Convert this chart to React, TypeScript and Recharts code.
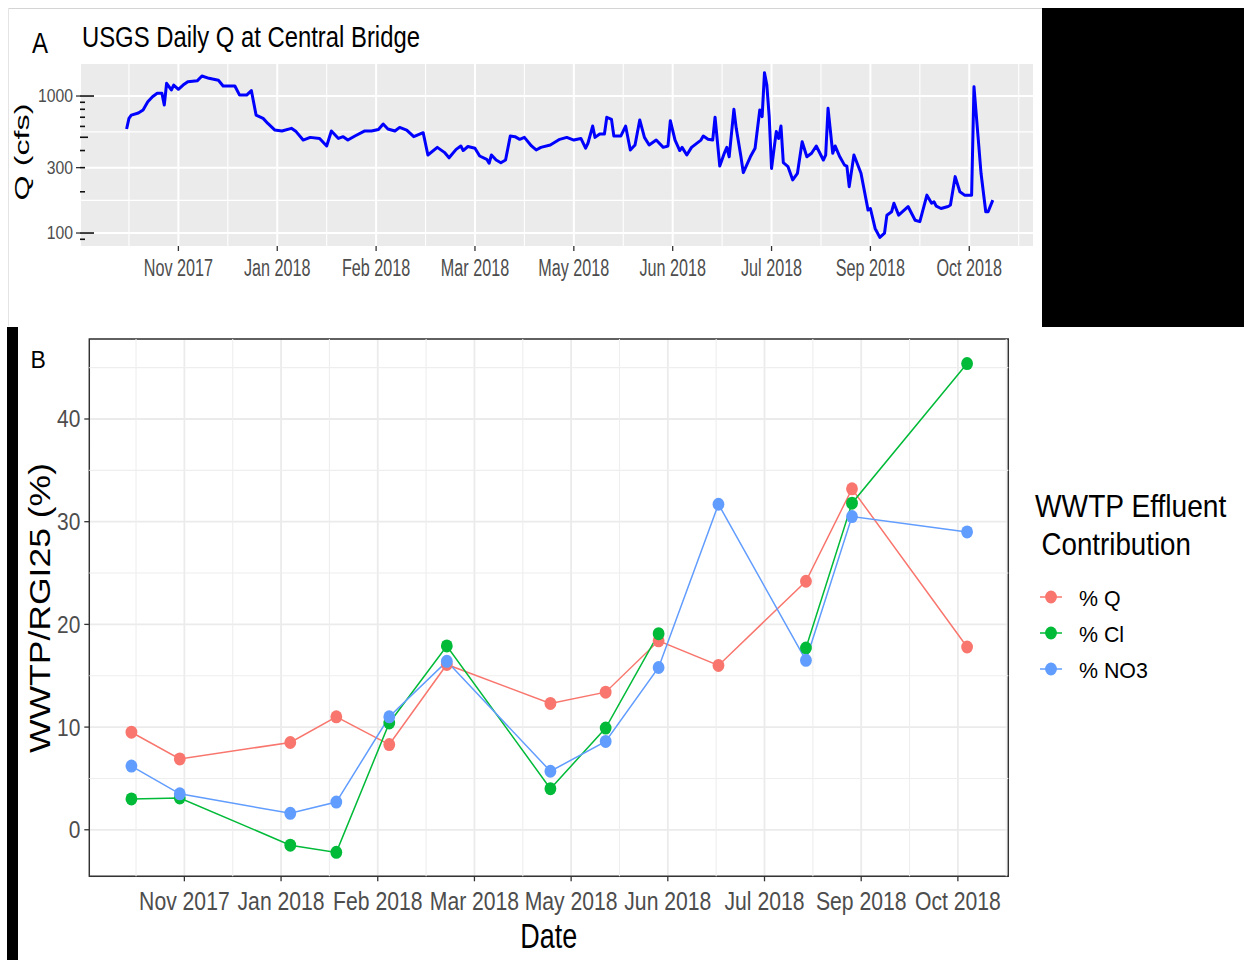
import React from 'react';
import { LineChart, Line, XAxis, YAxis, CartesianGrid, ReferenceLine, ReferenceArea } from 'recharts';

// ---------- shared axis data ----------
const tickLabels = ['Nov 2017', 'Jan 2018', 'Feb 2018', 'Mar 2018', 'May 2018', 'Jun 2018', 'Jul 2018', 'Sep 2018', 'Oct 2018'];
const tickDays = [0, 42, 84, 126, 168, 210, 252, 294, 336];
const minorDays = [-21, 21, 63, 105, 147, 189, 231, 273, 315, 357];

// ---------- panel A: daily discharge (day offset, cfs) ----------
const qSeries: [number, number][] = [
  [-22, 574], [-21, 687], [-20, 726], [-17, 752], [-15, 791], [-13, 908], [-11, 989], [-9, 1047], [-7, 1047], [-6, 859],
  [-5, 1239], [-3, 1107], [-2, 1202], [0, 1120], [2, 1202], [4, 1271], [8, 1291], [10, 1399], [13, 1346], [17, 1305],
  [19, 1183], [24, 1183], [26, 1016], [29, 1016], [31, 1096], [33, 726], [36, 687], [38, 631], [41, 564], [44, 555],
  [48, 581], [50, 550], [53, 477], [56, 499], [60, 490], [63, 432], [65, 555], [68, 490], [70, 505], [72, 477],
  [75, 511], [79, 555], [82, 555], [85, 570], [87, 625], [89, 575], [92, 555], [94, 590], [97, 564], [100, 505],
  [104, 540], [106, 371], [110, 422], [113, 388], [115, 354], [118, 408], [120, 432], [121, 400], [123, 428], [126, 416],
  [128, 365], [131, 345], [132, 323], [133, 371], [135, 341], [137, 326], [139, 341], [141, 511], [143, 505], [145, 483],
  [147, 499], [150, 432], [152, 404], [154, 422], [158, 439], [162, 483], [165, 499], [168, 477], [171, 490], [173, 416],
  [174, 452], [176, 604], [177, 499], [179, 528], [181, 528], [182, 700], [184, 675], [185, 511], [188, 511], [190, 604],
  [192, 404], [194, 439], [196, 669], [198, 499], [200, 439], [203, 477], [206, 422], [208, 432], [209, 661], [211, 477],
  [213, 400], [214, 422], [216, 371], [218, 422], [222, 477], [223, 511], [225, 483], [227, 477], [228, 700], [230, 308],
  [232, 385], [233, 422], [234, 360], [236, 800], [237, 581], [239, 360], [240, 276], [243, 360], [245, 416], [247, 791],
  [248, 707], [249, 1480], [250, 1202], [251, 707], [252, 296], [254, 550], [255, 490], [256, 604], [257, 326], [259, 305],
  [261, 244], [263, 273], [265, 464], [267, 360], [269, 382], [271, 432], [274, 341], [275, 371], [276, 813], [278, 382],
  [279, 432], [281, 360], [283, 313], [284, 308], [285, 218], [287, 371], [290, 273], [293, 147], [294, 151], [296, 108],
  [298, 93], [300, 100], [301, 135], [303, 143], [304, 165], [306, 135], [310, 156], [313, 124], [315, 121], [318, 189],
  [320, 165], [321, 169], [322, 157], [324, 151], [327, 156], [328, 160], [330, 258], [332, 200], [334, 189], [335, 189],
  [337, 189], [338, 1170], [341, 273], [343, 143], [344, 143], [346, 174],
];
const qLabelTicks = [100, 300, 1000];
const qLongTicks = [100, 1000];
const qMidTicks = [500];
const qLogTicks = [90, 100, 200, 300, 400, 500, 600, 700, 800, 900, 1000];
const qGridMinor = [173.2, 547.7];

// ---------- panel B: WWTP contribution ----------
const sampleDays = [-23, -2, 46, 66, 89, 114, 159, 183, 206, 232, 270, 290, 340];
const pctQ = [9.5, 6.9, 8.5, 11.0, 8.3, 16.1, 12.3, 13.4, 18.4, 16.0, 24.2, 33.2, 17.8];
const pctCl = [3.0, 3.1, -1.5, -2.2, 10.4, 17.9, 4.0, 9.9, 19.1, null, 17.7, 31.8, 45.4];
const pctNO3 = [6.2, 3.5, 1.6, 2.7, 11.0, 16.4, 5.7, 8.6, 15.8, 31.7, 16.5, 30.5, 29.0];
const pctTicks = [0, 10, 20, 30, 40];
const pctMinor = [5, 15, 25, 35, 45];
const seriesKeys = ['q', 'cl', 'no3'];
const seriesNames = ['% Q', '% Cl', '% NO3'];
const seriesColors = ['#F8766D', '#00BA38', '#619CFF'];

const qData = qSeries.map(([day, q]) => ({ day, q }));
const pctData = sampleDays.map((day, i) => ({ day, q: pctQ[i], cl: pctCl[i], no3: pctNO3[i] }));

const FONT = '"Liberation Sans", Arial, Helvetica, sans-serif';

function SqText(props: any) {
  const { x, y, sx = 1, size, anchor = 'start', fill = '#000', children } = props;
  return (
    <text
      transform={`translate(${x},${y}) scale(${sx},1)`}
      x={0}
      y={0}
      textAnchor={anchor}
      fontSize={size}
      fontFamily={FONT}
      fill={fill}
    >
      {children}
    </text>
  );
}

// ---------- custom ticks ----------
const TopXTick = (p: any) => {
  const { x, y, payload, index } = p;
  const i = tickDays.indexOf(payload.value);
  return (
    <g key={`tx${index}`}>
      <line x1={x} x2={x} y1={y} y2={y + 5} stroke="#333333" strokeWidth={1.3} />
      <SqText x={x} y={y + 30} size={24.5} sx={0.66} anchor="middle" fill="#4D4D4D">
        {tickLabels[i]}
      </SqText>
    </g>
  );
};

const TopYTick = (p: any) => {
  const { x, y, payload, index } = p;
  const v = payload.value;
  const labelled = qLabelTicks.includes(v);
  const len = qLongTicks.includes(v) ? 14 : qMidTicks.includes(v) ? 8 : 5;
  return (
    <g key={`ty${index}`}>
      {labelled && <line x1={x - 4} x2={x} y1={y} y2={y} stroke="#333333" strokeWidth={1.3} />}
      <line x1={x} x2={x + len} y1={y} y2={y} stroke="#111111" strokeWidth={1.6} />
      {labelled && (
        <SqText x={x - 7} y={y + 6.3} size={17.7} sx={0.89} anchor="end" fill="#4D4D4D">
          {String(v)}
        </SqText>
      )}
    </g>
  );
};

const BotXTick = (p: any) => {
  const { x, y, payload, index } = p;
  const i = tickDays.indexOf(payload.value);
  return (
    <g key={`bx${index}`}>
      <line x1={x} x2={x} y1={y} y2={y + 5} stroke="#333333" strokeWidth={1.3} />
      <SqText x={x} y={y + 33.7} size={25.5} sx={0.83} anchor="middle" fill="#4D4D4D">
        {tickLabels[i]}
      </SqText>
    </g>
  );
};

const BotYTick = (p: any) => {
  const { x, y, payload, index } = p;
  return (
    <g key={`by${index}`}>
      <line x1={x - 5} x2={x} y1={y} y2={y} stroke="#333333" strokeWidth={1.3} />
      <SqText x={x - 9} y={y + 8.5} size={23} sx={0.91} anchor="end" fill="#4D4D4D">
        {String(payload.value)}
      </SqText>
    </g>
  );
};

const makeDot = (color: string) => (p: any) => {
  const { cx, cy, index, value } = p;
  const v = Array.isArray(value) ? value[1] : value;
  if (v == null || cx == null || cy == null || !isFinite(cx) || !isFinite(cy)) return <g key={`d${index}`} />;
  return <ellipse key={`d${index}`} cx={cx} cy={cy} rx={5.9} ry={6.5} fill={color} />;
};

export default function App() {
  return (
    <div style={{ position: 'absolute', left: 0, top: 0, width: 1244, height: 960, background: '#fff', overflow: 'hidden' }}>
      {/* Panel A */}
      <div style={{ position: 'absolute', left: 0, top: 0 }}>
        <LineChart width={1244} height={327} data={qData} margin={{ top: 64, right: 210, bottom: 41, left: 20 }}>
          <CartesianGrid fill="#EBEBEB" horizontal={false} stroke="#FFFFFF" strokeWidth={2} strokeDasharray="0" />
          {minorDays.map((d) => (
            <ReferenceLine key={`amv${d}`} x={d} stroke="#FFFFFF" strokeWidth={1.1} />
          ))}
          {qGridMinor.map((v) => (
            <ReferenceLine key={`amh${v}`} y={v} stroke="#FFFFFF" strokeWidth={1.1} />
          ))}
          {qLabelTicks.map((v) => (
            <ReferenceLine key={`aMh${v}`} y={v} stroke="#FFFFFF" strokeWidth={2} />
          ))}
          <XAxis
            type="number"
            dataKey="day"
            domain={[-41.8, 363.5]}
            allowDataOverflow
            ticks={tickDays}
            interval={0}
            tickSize={0}
            tickMargin={0}
            axisLine={false}
            tickLine={false}
            height={40}
            tick={(p: any) => <TopXTick {...p} />}
          />
          <YAxis
            type="number"
            scale="log"
            domain={[80.4, 1713]}
            allowDataOverflow
            ticks={qLogTicks}
            interval={0}
            tickSize={0}
            tickMargin={0}
            axisLine={false}
            tickLine={false}
            width={60}
            tick={(p: any) => <TopYTick {...p} />}
          />
          <Line
            type="linear"
            dataKey="q"
            stroke="#0000FF"
            strokeWidth={3}
            strokeLinejoin="round"
            dot={false}
            activeDot={false}
            isAnimationActive={false}
          />
        </LineChart>
      </div>

      {/* Panel B */}
      <div style={{ position: 'absolute', left: 0, top: 327 }}>
        <LineChart width={1244} height={633} data={pctData} margin={{ top: 12, right: 235.7, bottom: 43.7, left: 29.3 }}>
          <CartesianGrid fill="#FFFFFF" stroke="#EBEBEB" strokeWidth={1.8} strokeDasharray="0" />
          {minorDays.map((d) => (
            <ReferenceLine key={`bmv${d}`} x={d} stroke="#EEEEEE" strokeWidth={1.1} />
          ))}
          {pctMinor.map((v) => (
            <ReferenceLine key={`bmh${v}`} y={v} stroke="#EEEEEE" strokeWidth={1.1} />
          ))}
          <XAxis
            type="number"
            dataKey="day"
            domain={[-41.3, 357.9]}
            allowDataOverflow
            ticks={tickDays}
            interval={0}
            tickSize={0}
            tickMargin={0}
            axisLine={false}
            tickLine={false}
            height={40}
            tick={(p: any) => <BotXTick {...p} />}
          />
          <YAxis
            type="number"
            domain={[-4.53, 47.79]}
            allowDataOverflow
            ticks={pctTicks}
            interval={0}
            tickSize={0}
            tickMargin={0}
            axisLine={false}
            tickLine={false}
            width={60}
            tick={(p: any) => <BotYTick {...p} />}
          />
          {seriesKeys.map((k, i) => (
            <Line
              key={`line-${k}`}
              type="linear"
              dataKey={k}
              name={seriesNames[i]}
              stroke={seriesColors[i]}
              strokeWidth={1.5}
              connectNulls={false}
              dot={false}
              activeDot={false}
              isAnimationActive={false}
            />
          ))}
          {seriesKeys.map((k, i) => (
            <Line
              key={`pts-${k}`}
              type="linear"
              dataKey={k}
              stroke="none"
              strokeWidth={0}
              legendType="none"
              dot={makeDot(seriesColors[i])}
              activeDot={false}
              isAnimationActive={false}
            />
          ))}
          <ReferenceArea
            x1={-41.3}
            x2={357.9}
            y1={-4.53}
            y2={47.79}
            fill="none"
            fillOpacity={0}
            stroke="#333333"
            strokeWidth={1.4}
            ifOverflow="visible"
          />
        </LineChart>
      </div>

      {/* black blocks of the composite figure */}
      <div style={{ position: 'absolute', left: 1042, top: 8, width: 202, height: 319, background: '#000' }} />
      <div style={{ position: 'absolute', left: 7, top: 327, width: 11, height: 633, background: '#000' }} />

      {/* annotations and legend */}
      <svg width={1244} height={960} style={{ position: 'absolute', left: 0, top: 0, pointerEvents: 'none' }}>
        <line x1={8} x2={1042} y1={8.5} y2={8.5} stroke="#D4D4D4" strokeWidth={1} />
        <line x1={8.5} x2={8.5} y1={8} y2={326} stroke="#E4E4E4" strokeWidth={1} />

        <SqText x={32} y={53} size={29} sx={0.83}>A</SqText>
        <SqText x={82} y={47} size={30} sx={0.795}>USGS Daily Q at Central Bridge</SqText>
        <text
          transform="translate(29,152) rotate(-90)"
          textAnchor="middle"
          fontSize={19.5}
          fontFamily={FONT}
          textLength={97}
          lengthAdjust="spacingAndGlyphs"
          fill="#000"
        >
          Q (cfs)
        </text>

        <SqText x={30.5} y={368} size={23} sx={1}>B</SqText>
        <text
          transform="translate(50,608) rotate(-90)"
          textAnchor="middle"
          fontSize={30}
          fontFamily={FONT}
          textLength={290}
          lengthAdjust="spacingAndGlyphs"
          fill="#000"
        >
          WWTP/RGI25 (%)
        </text>
        <SqText x={548.8} y={948} size={35} sx={0.77} anchor="middle">Date</SqText>

        <SqText x={1035} y={516.7} size={32} sx={0.88}>WWTP Effluent</SqText>
        <SqText x={1041.5} y={555} size={32} sx={0.866}>Contribution</SqText>
        {seriesNames.map((n, i) => {
          const cy = 597 + i * 36;
          return (
            <g key={`lg${i}`}>
              <line x1={1040} x2={1062} y1={cy} y2={cy} stroke={seriesColors[i]} strokeWidth={1.5} />
              <ellipse cx={1051} cy={cy} rx={5.9} ry={6.5} fill={seriesColors[i]} />
              <SqText x={1079} y={cy + 8.5} size={23} sx={0.93}>{n}</SqText>
            </g>
          );
        })}
      </svg>
    </div>
  );
}
